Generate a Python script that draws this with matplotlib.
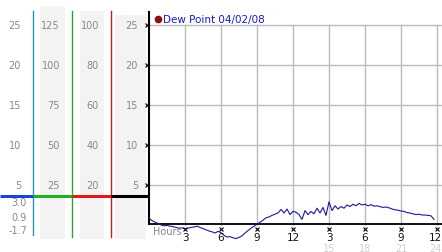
import matplotlib.pyplot as plt
import numpy as np

# dew point readings, every 15 minutes from 0h to 23.75h
horas = np.arange(0, 24, 0.25)
rocio = [0.85, 0.55, 0.35, 0.2, 0.0, -0.1, -0.05, -0.15,
         -0.2, -0.3, -0.4, -0.35, -0.5, -0.4, -0.3, -0.25,
         -0.15, -0.3, -0.45, -0.6, -0.75, -0.85, -1.0, -0.8,
         -0.95, -1.3, -1.5, -1.45, -1.6, -1.7, -1.55, -1.35,
         -1.0, -0.7, -0.4, -0.15, 0.1, 0.35, 0.6, 0.9,
         1.0, 1.2, 1.35, 1.5, 1.95, 1.5, 2.0, 1.3,
         1.7, 1.6, 1.3, 0.7, 1.8, 1.3, 1.7, 1.4,
         2.1, 1.5, 2.2, 1.2, 2.9, 1.8, 2.4, 2.0,
         2.3, 2.1, 2.5, 2.3, 2.6, 2.4, 2.7, 2.5,
         2.6, 2.4, 2.55, 2.35, 2.4, 2.3, 2.2, 2.25,
         2.15, 2.0, 1.9, 1.85, 1.75, 1.7, 1.55, 1.5,
         1.4, 1.3, 1.35, 1.25, 1.25, 1.2, 1.15, 0.7]

# left scale columns
col1 = ['25', '20', '15', '10', '5']
col2 = ['125', '100', '75', '50', '25']
col3 = ['100', '80', '60', '40', '20']
col4 = ['25', '20', '15', '10', '5']
niveles = [25, 20, 15, 10, 5]
extra = ['3.0', '0.9', '-1.7']
extra_y = [2.875, 1.0, -0.6]

xticks = [3, 6, 9, 12, 15, 18, 21, 24]
xlab1 = ['3', '6', '9', '12', '3', '6', '9', '12']
xlab2 = ['', '', '', '', '15', '18', '21', '24']

W, H = 442, 253
px_h = 288 / 24.0
ymin, ymax = (226 - 253) / 8.0, 226 / 8.0

fig = plt.figure(figsize=(W / 100, H / 100), dpi=100)
izq = fig.add_axes([0, 0, 149 / W, 1])
ax = fig.add_axes([149 / W, 0, (W - 149) / W, 1])
for a in (izq, ax):
    a.set_ylim(ymin, ymax)
    a.axis('off')
izq.set_xlim(0, 149)
ax.set_xlim(0, (W - 149) / px_h)

# left panel: shaded columns
for x0, x1, top in [(40, 65, 27.4), (80, 104, 26.75), (115, 146, 26.25)]:
    izq.fill_between([x0, x1], -1.75, top, color='#f3f3f3', lw=0)

for xv, c, bot in [(33, '#2a90c8', -1.25), (72, '#2ea02e', -1.5), (111, '#c02020', -1.5)]:
    izq.plot([xv, xv], [bot, 26.75], color=c, lw=1)

for x0, x1, c in [(0, 33, '#1a44d8'), (33, 72, '#22b022'), (72, 111, '#dd1c1c'), (111, 149, 'black')]:
    izq.plot([x0, x1], [3.625, 3.625], color=c, lw=2.2, solid_capstyle='butt')

for xr, labs in [(21, col1), (60, col2), (99, col3), (138, col4)]:
    for v, t in zip(niveles, labs):
        izq.text(xr, v, t, ha='right', va='center', fontsize=7, color='#888888')
for v, t in zip(extra_y, extra):
    izq.text(27, v, t, ha='right', va='center', fontsize=7, color='#888888')

# main plot grid
for v in niveles:
    ax.plot([0, 30], [v, v], color='#bbbbbb', lw=1)
    ax.plot(-0.15, v, marker='x', ms=2.5, mew=0.8, color='black', clip_on=False)
for h in xticks:
    ax.plot([h, h], [0, 25], color='#bbbbbb', lw=1)
ax.plot([0, 30], [0.1, 0.1], color='black', lw=1.3)
ax.plot([0, 0], [0.1, 26.6], color='black', lw=1.5, clip_on=False)

ax.plot(horas, rocio, color='#1a1a99', lw=0.8)

for h, t1, t2 in zip(xticks, xlab1, xlab2):
    ax.plot(h, -0.55, marker='x', ms=2.5, mew=0.8, color='black', clip_on=False)
    hx = min(h, 23.85)
    ax.text(hx, -1.55, t1, ha='center', va='center', fontsize=7.5, color='#111111')
    ax.text(hx, -2.85, t2, ha='center', va='center', fontsize=7, color='#d0d0d0')
ax.text(0.35, -0.8, 'Hours', ha='left', va='center', fontsize=7, color='#888888')

# legend
ax.plot(0.75, 25.75, 'o', ms=4.5, color='#8b1010')
ax.text(1.15, 25.75, 'Dew Point 04/02/08', ha='left', va='center', fontsize=7.5, color='#1a1acc')

plt.savefig('out.png', dpi=100)
